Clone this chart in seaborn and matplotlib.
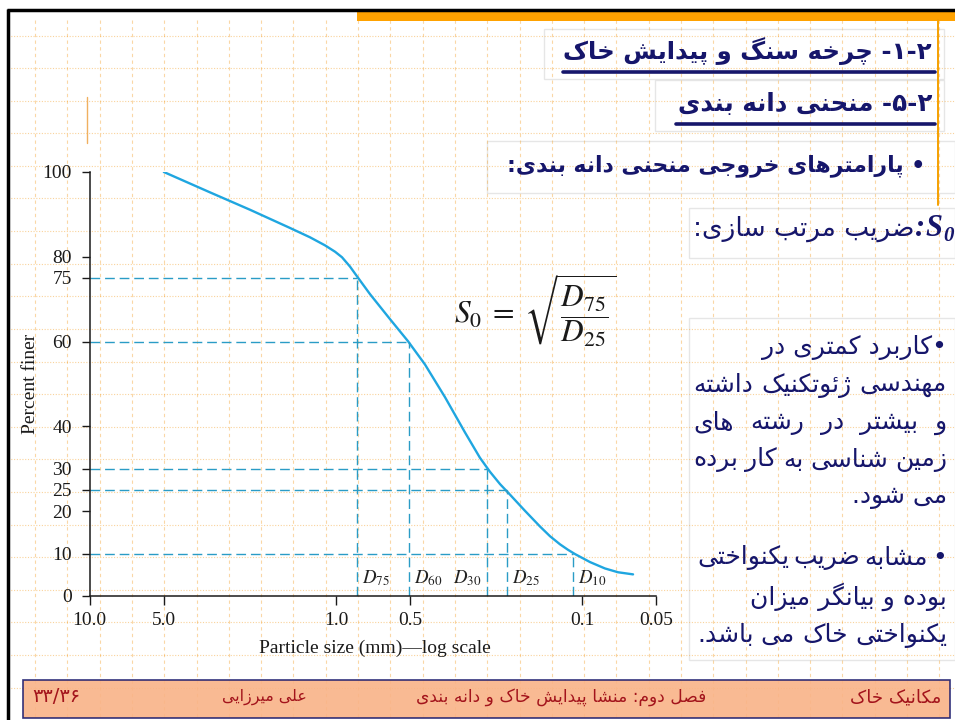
import matplotlib
matplotlib.use("Agg")
import matplotlib.pyplot as plt
import pandas as pd
import seaborn as sns
from matplotlib.patches import Rectangle

# ---------------- data ----------------
particle_size = [5.0, 3.248, 2.235, 1.537, 1.275, 1.108, 1.009, 0.9455, 0.8773,
                 0.8217, 0.7277, 0.6035, 0.5101, 0.4351, 0.3609, 0.2995, 0.2603,
                 0.2370, 0.2158, 0.1965, 0.1709, 0.1485, 0.1352, 0.1232, 0.1143,
                 0.1071, 0.0930, 0.0809, 0.0716, 0.0622]
percent_finer = [100, 95.2, 91.1, 86.8, 84.6, 82.7, 81.2, 79.9, 77.7,
                 75.4, 71.2, 65.3, 60.1, 54.6, 46.9, 38.6, 32.6,
                 29.3, 26.4, 23.9, 20.1, 16.4, 14.1, 12.2, 10.9,
                 9.9, 8.0, 6.5, 5.6, 5.1]

d_names = ["75", "60", "30", "25", "10"]
d_percent = [75, 60, 30, 25, 10]
d_size = [0.824, 0.505, 0.2444, 0.2016, 0.1088]

x_ticks = [10, 5, 1, 0.5, 0.1, 0.05]
x_tick_labels = ["10.0", "5.0", "1.0", "0.5", "0.1", "0.05"]
y_ticks = [0, 10, 20, 25, 30, 40, 60, 75, 80, 100]

title_1 = "۲-۱- چرخه سنگ و پیدایش خاک"
title_2 = "۲-۵- منحنی دانه بندی"
heading = "• پارامترهای خروجی منحنی دانه بندی:"
s0_text = "ضریب مرتب سازی:"
para_1 = ["•کاربرد کمتری در", "مهندسی ژئوتکنیک داشته", "و بیشتر در رشته های",
          "زمین شناسی به کار برده", "می شود."]
para_2 = ["• مشابه ضریب یکنواختی", "بوده و بیانگر میزان", "یکنواختی خاک می باشد."]
footer_course = "مکانیک خاک"
footer_chapter = "فصل دوم: منشا پیدایش خاک و دانه بندی"
footer_author = "علی میرزایی"
footer_page = "۳۳/۳۶"

# ---------------- Persian shaping (presentation forms + visual order) ----------------
# letter: (isolated, final, initial, medial); right-joining letters have no initial/medial
FORMS = {
    "\u0622": ("\uFE81", "\uFE82", None, None),
    "\u0623": ("\uFE83", "\uFE84", None, None),
    "\u0624": ("\uFE85", "\uFE86", None, None),
    "\u0625": ("\uFE87", "\uFE88", None, None),
    "\u0626": ("\uFE89", "\uFE8A", "\uFE8B", "\uFE8C"),
    "\u0627": ("\uFE8D", "\uFE8E", None, None),
    "\u0628": ("\uFE8F", "\uFE90", "\uFE91", "\uFE92"),
    "\u0629": ("\uFE93", "\uFE94", None, None),
    "\u062A": ("\uFE95", "\uFE96", "\uFE97", "\uFE98"),
    "\u062B": ("\uFE99", "\uFE9A", "\uFE9B", "\uFE9C"),
    "\u062C": ("\uFE9D", "\uFE9E", "\uFE9F", "\uFEA0"),
    "\u062D": ("\uFEA1", "\uFEA2", "\uFEA3", "\uFEA4"),
    "\u062E": ("\uFEA5", "\uFEA6", "\uFEA7", "\uFEA8"),
    "\u062F": ("\uFEA9", "\uFEAA", None, None),
    "\u0630": ("\uFEAB", "\uFEAC", None, None),
    "\u0631": ("\uFEAD", "\uFEAE", None, None),
    "\u0632": ("\uFEAF", "\uFEB0", None, None),
    "\u0633": ("\uFEB1", "\uFEB2", "\uFEB3", "\uFEB4"),
    "\u0634": ("\uFEB5", "\uFEB6", "\uFEB7", "\uFEB8"),
    "\u0635": ("\uFEB9", "\uFEBA", "\uFEBB", "\uFEBC"),
    "\u0636": ("\uFEBD", "\uFEBE", "\uFEBF", "\uFEC0"),
    "\u0637": ("\uFEC1", "\uFEC2", "\uFEC3", "\uFEC4"),
    "\u0638": ("\uFEC5", "\uFEC6", "\uFEC7", "\uFEC8"),
    "\u0639": ("\uFEC9", "\uFECA", "\uFECB", "\uFECC"),
    "\u063A": ("\uFECD", "\uFECE", "\uFECF", "\uFED0"),
    "\u0641": ("\uFED1", "\uFED2", "\uFED3", "\uFED4"),
    "\u0642": ("\uFED5", "\uFED6", "\uFED7", "\uFED8"),
    "\u0643": ("\uFED9", "\uFEDA", "\uFEDB", "\uFEDC"),
    "\u0644": ("\uFEDD", "\uFEDE", "\uFEDF", "\uFEE0"),
    "\u0645": ("\uFEE1", "\uFEE2", "\uFEE3", "\uFEE4"),
    "\u0646": ("\uFEE5", "\uFEE6", "\uFEE7", "\uFEE8"),
    "\u0647": ("\uFEE9", "\uFEEA", "\uFEEB", "\uFEEC"),
    "\u0648": ("\uFEED", "\uFEEE", None, None),
    "\u0649": ("\uFEEF", "\uFEF0", None, None),
    "\u064A": ("\uFEF1", "\uFEF2", "\uFEF3", "\uFEF4"),
    "\u067E": ("\uFB56", "\uFB57", "\uFB58", "\uFB59"),
    "\u0686": ("\uFB7A", "\uFB7B", "\uFB7C", "\uFB7D"),
    "\u0698": ("\uFB8A", "\uFB8B", None, None),
    "\u06A9": ("\uFB8E", "\uFB8F", "\uFB90", "\uFB91"),
    "\u06AF": ("\uFB92", "\uFB93", "\uFB94", "\uFB95"),
    "\u06CC": ("\uFBFC", "\uFBFD", "\uFBFE", "\uFBFF"),
}


def rtl(s):
    out = []
    n = len(s)
    for i, c in enumerate(s):
        f = FORMS.get(c)
        if f is None:
            out.append(c)
            continue
        prev = s[i - 1] if i > 0 else None
        nxt = s[i + 1] if i < n - 1 else None
        join_prev = prev in FORMS and FORMS[prev][2] is not None
        join_next = f[2] is not None and nxt in FORMS
        if join_prev and join_next:
            out.append(f[3])
        elif join_prev:
            out.append(f[1])
        elif join_next:
            out.append(f[2])
        else:
            out.append(f[0])
    return "".join(out)[::-1]


# ---------------- style ----------------
sns.set_theme(style="ticks")
plt.rcParams["font.family"] = ["Liberation Serif", "DejaVu Serif"]
plt.rcParams["mathtext.fontset"] = "stix"

NAVY = "#16166b"
CURVE = "#1fa6e0"
GUIDE = "#2a9cc6"
GRID = "#f5a83a"
FOOT_TXT = "#a3141c"
FA = ["DejaVu Sans"]

fig = plt.figure(figsize=(9.55, 7.2), dpi=100, facecolor="white")
renderer = fig.canvas.get_renderer()

# slide background drawn in pixel coordinates
bg = fig.add_axes([0, 0, 1, 1], zorder=0)
bg.set_xlim(0, 955)
bg.set_ylim(720, 0)
bg.axis("off")

gx = 35.0
while gx < 955:
    bg.plot([gx, gx], [20, 720], color=GRID, lw=0.8, alpha=0.45, ls=(0, (3, 3)))
    gx += 32.3
gy = 35.5
while gy < 720:
    bg.plot([8, 955], [gy, gy], color=GRID, lw=0.8, alpha=0.5, ls=(0, (1, 1.5)))
    gy += 32.6

# picture area of the chart
bg.add_patch(Rectangle((15, 140), 673, 520, fc="white", ec="none", zorder=1))

# frame and top band
bg.add_patch(Rectangle((357, 11), 598, 9.5, fc="#ffa200", ec="none", zorder=2))
bg.plot([7, 955], [9.5, 9.5], color="black", lw=2.5, zorder=3, solid_capstyle="butt")
bg.plot([8, 8], [8.5, 720], color="black", lw=2.5, zorder=3, solid_capstyle="butt")
bg.plot([938, 938], [20, 205], color="#f5a000", lw=1.4, zorder=2)
bg.plot([87, 87], [97, 143], color="#f0b060", lw=1.0, zorder=2)

# text boxes
for (x0, y0, w, h) in [(544, 29, 400, 50), (655, 80, 289, 51), (487, 141, 468, 52),
                       (689, 208, 266, 50), (689, 318, 266, 342)]:
    bg.add_patch(Rectangle((x0, y0), w, h, fc="white", ec="#dedede", lw=1.0,
                           alpha=0.75, zorder=1.5))

# titles with underline
bg.plot([563, 935], [71.5, 71.5], color=NAVY, lw=2.6, zorder=3)
bg.plot([676, 935], [124, 124], color=NAVY, lw=2.6, zorder=3)


def fa_text(x, y, s, width=None, size=16, ha="right", **kw):
    t = bg.text(x, y, rtl(s), fontsize=size, ha=ha, va="center",
                family=FA, zorder=4, **kw)
    if width:
        w = t.get_window_extent(renderer).width
        t.set_fontsize(size * width / w)
    return t


def fa_justified(right, y, s, width, size, **kw):
    """Place the words of one line so that the line fills `width` pixels."""
    words = s.split(" ")
    texts = [fa_text(right, y, w, size=size, **kw) for w in words]
    widths = [t.get_window_extent(renderer).width for t in texts]
    gap = (width - sum(widths)) / max(len(words) - 1, 1)
    x = right
    for t, w in zip(texts, widths):
        t.set_x(x)
        x -= w + gap


fa_text(932, 51, title_1, width=367, size=20, color=NAVY, weight="bold")
fa_text(932, 104, title_2, width=254, size=20, color=NAVY, weight="bold")
fa_text(925, 166, heading, width=420, size=18, color=NAVY, weight="bold")

# S0 line
bg.text(925, 236, "S", family="Liberation Serif", style="italic", weight="bold",
        fontsize=22, color=NAVY, ha="left", va="baseline", zorder=4)
bg.text(943, 241, "0", family="Liberation Serif", style="italic", weight="bold",
        fontsize=15, color=NAVY, ha="left", va="baseline", zorder=4)
bg.text(925, 236, ":", family="Liberation Serif", style="italic", weight="bold",
        fontsize=22, color=NAVY, ha="right", va="baseline", zorder=4)
fa_text(914, 229, s0_text, width=222, size=16, color=NAVY)

# paragraphs: one common size taken from a full-width line
probe = fa_text(947, 0, para_1[1], width=254, size=16, color=NAVY)
para_size = probe.get_fontsize()
probe.remove()
full_1 = [False, True, True, True, False]
full_2 = [True, False, True]
for i, (line, full) in enumerate(zip(para_1, full_1)):
    y = 348 + 37.3 * i
    if full:
        fa_justified(947, y, line, 254, para_size, color=NAVY)
    else:
        fa_text(947, y, line, size=para_size, color=NAVY)
for i, (line, full) in enumerate(zip(para_2, full_2)):
    y = 558 + 38.5 * i
    if full:
        fa_justified(947, y, line, 250, para_size, color=NAVY)
    else:
        fa_text(947, y, line, size=para_size, color=NAVY)

# footer
bg.add_patch(Rectangle((23, 680), 927, 38, fc="#f9b387", ec="#1d1d6e", lw=1.2,
                       alpha=0.9, zorder=2))
fa_text(941, 697, footer_course, width=91, size=13, color=FOOT_TXT)
fa_text(706, 697, footer_chapter, width=289, size=13, color=FOOT_TXT)
fa_text(307, 697, footer_author, width=85, size=13, color=FOOT_TXT)
bg.text(32, 697, footer_page, family=FA, fontsize=14, color=FOOT_TXT,
        ha="left", va="center", zorder=4)

# formula
bg.text(454, 311, r"$S_0 \;=\; \sqrt{\dfrac{D_{75}}{D_{25}}}$", fontsize=22.5,
        color="#1a1a1a", ha="left", va="center", zorder=4)

# ---------------- grain-size chart ----------------
ax = fig.add_axes([89.7 / 955, 124 / 720, 566.7 / 955, 424 / 720], zorder=2)
ax.set_facecolor("none")
ax.set_xscale("log")

curve = pd.DataFrame({"size": particle_size, "finer": percent_finer})
sns.lineplot(data=curve, x="size", y="finer", ax=ax, color=CURVE, lw=1.7,
             sort=False, estimator=None)

ax.hlines(d_percent, xmin=10, xmax=d_size, colors=GUIDE, lw=1.0, ls=(0, (7, 3.5)))
ax.vlines(d_size, ymin=0, ymax=d_percent, colors=GUIDE, lw=1.0, ls=(0, (7, 3.5)))

for name, size in zip(d_names, d_size):
    left = name == "30"
    ax.annotate(f"$D_{{{name}}}$", xy=(size, 0), xytext=(-3.5 if left else 3.5, 12.5),
                textcoords="offset points", ha="right" if left else "left",
                va="center", fontsize=13.5, color="#222222")

ax.set_xlim(10, 0.05)
ax.set_ylim(0, 100)
ax.set_xticks(x_ticks)
ax.set_xticklabels(x_tick_labels)
ax.xaxis.set_minor_locator(matplotlib.ticker.NullLocator())
ax.set_yticks(y_ticks)
ax.set_yticklabels([str(v) for v in y_ticks])
ax.tick_params(axis="x", direction="out", length=6.5, width=1.0, pad=5,
               labelsize=14, colors="#1a1a1a")
ax.tick_params(axis="y", direction="out", length=5.8, width=1.0, pad=7,
               labelsize=14, colors="#1a1a1a")
for side in ("top", "right"):
    ax.spines[side].set_visible(False)
for side in ("left", "bottom"):
    ax.spines[side].set_color("#1a1a1a")
    ax.spines[side].set_linewidth(1.1)

ax.set_xlabel("Particle size (mm)\u2014log scale", fontsize=14, color="#1a1a1a")
ax.set_ylabel("Percent finer", fontsize=14, color="#1a1a1a")
ax.xaxis.set_label_coords(0.503, -0.103)
ax.yaxis.set_label_coords(-0.09, 0.5)

fig.savefig("out.png", dpi=100, facecolor="white")
